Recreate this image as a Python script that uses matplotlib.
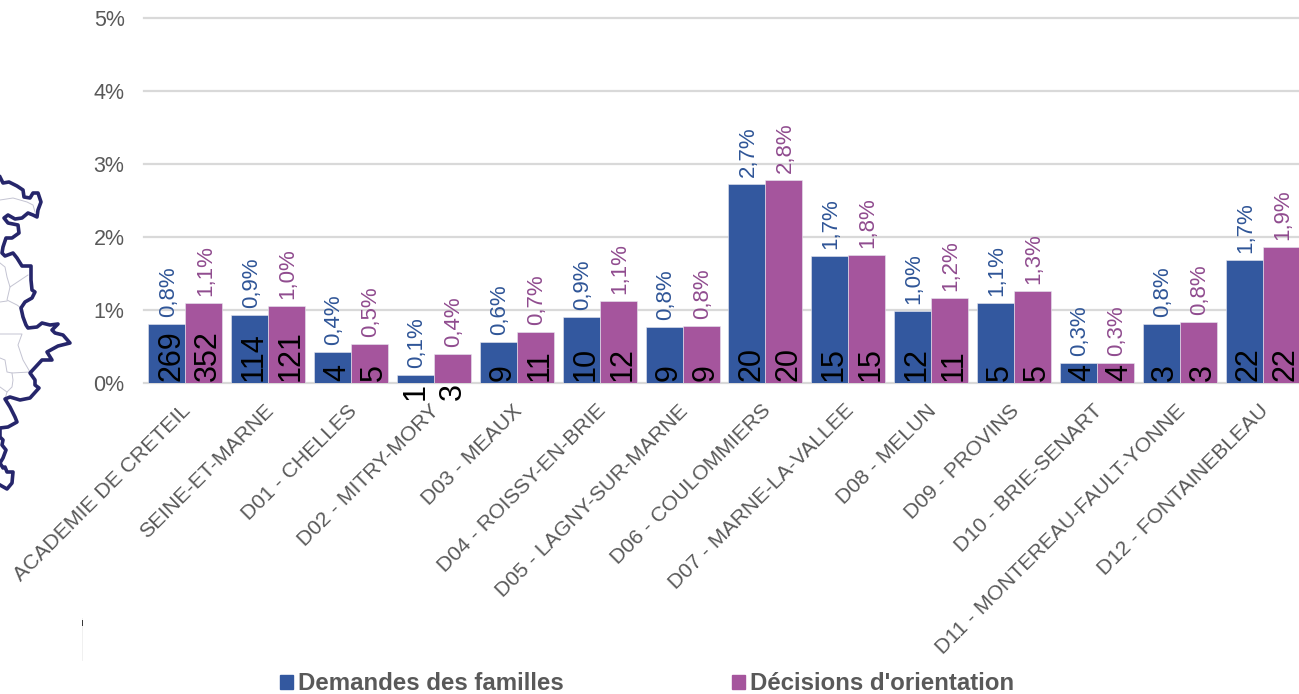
import numpy as np
import matplotlib.pyplot as plt
from matplotlib.patches import Patch

plt.rcParams['font.family'] = ['Liberation Sans', 'DejaVu Sans']

categories = ["ACADEMIE DE CRETEIL", "SEINE-ET-MARNE", "D01 - CHELLES", "D02 - MITRY-MORY",
              "D03 - MEAUX", "D04 - ROISSY-EN-BRIE", "D05 - LAGNY-SUR-MARNE", "D06 - COULOMMIERS",
              "D07 - MARNE-LA-VALLEE", "D08 - MELUN", "D09 - PROVINS", "D10 - BRIE-SENART",
              "D11 - MONTEREAU-FAULT-YONNE", "D12 - FONTAINEBLEAU"]
demandes = [0.81, 0.93, 0.42, 0.11, 0.56, 0.91, 0.77, 2.73, 1.74, 0.99, 1.10, 0.27, 0.81, 1.68]
decisions = [1.09, 1.05, 0.54, 0.40, 0.70, 1.12, 0.78, 2.78, 1.76, 1.17, 1.26, 0.27, 0.83, 1.86]
demandes_pct = ["0,8%", "0,9%", "0,4%", "0,1%", "0,6%", "0,9%", "0,8%", "2,7%", "1,7%", "1,0%", "1,1%", "0,3%", "0,8%", "1,7%"]
decisions_pct = ["1,1%", "1,0%", "0,5%", "0,4%", "0,7%", "1,1%", "0,8%", "2,8%", "1,8%", "1,2%", "1,3%", "0,3%", "0,8%", "1,9%"]
demandes_n = [269, 114, 4, 1, 9, 10, 9, 20, 15, 12, 5, 4, 3, 22]
decisions_n = [352, 121, 5, 3, 11, 12, 9, 20, 15, 11, 5, 4, 3, 22]
y_ticks = [0, 1, 2, 3, 4, 5]

# bout de carte a gauche, en pixels de l'image
map_outline = [(0, 177), (3, 183), (9, 182), (17, 186), (23, 190), (24, 197), (30, 198), (33, 193), (38, 193),
               (41, 202), (38, 210), (37, 217), (33, 215), (28, 213), (22, 218), (15, 219), (8, 215), (4, 218),
               (8, 223), (18, 225), (19, 233), (12, 238), (6, 238), (3, 247), (2, 253), (5, 256), (13, 253),
               (17, 258), (22, 266), (31, 266), (31, 280), (32, 290), (35, 292), (32, 298), (25, 302), (21, 308),
               (23, 317), (26, 325), (28, 328), (37, 327), (42, 323), (50, 325), (58, 324), (52, 330), (55, 333),
               (63, 335), (70, 343), (58, 346), (47, 352), (52, 360), (42, 360), (30, 373), (35, 380), (35, 385),
               (39, 388), (30, 398), (20, 400), (10, 397), (5, 399), (10, 407), (15, 417), (17, 422), (8, 427),
               (0, 428), (0, 437), (3, 440), (2, 445), (6, 450), (3, 458), (0, 463), (3, 468), (5, 467), (7, 472),
               (13, 472), (12, 483), (7, 489), (0, 485)]
map_inner = [[(0, 200), (13, 198), (27, 202), (33, 205), (35, 212)],
             [(0, 263), (5, 267), (7, 277), (10, 287), (28, 275)],
             [(10, 287), (7, 300), (17, 305), (21, 308)],
             [(0, 302), (7, 301)],
             [(0, 334), (22, 334), (18, 345), (23, 360), (30, 372)],
             [(0, 358), (5, 360), (7, 372), (12, 373), (30, 372)],
             [(12, 373), (13, 380), (12, 387), (7, 392), (5, 399)],
             [(0, 387), (7, 392)]]

blue = "#33589F"
pink = "#A5559D"
blue_txt = "#2F5597"
pink_txt = "#904C8F"
grey = "#595959"

fig = plt.figure(figsize=(12.99, 6.94), dpi=100)

# calque pixels pour la carte
bg = fig.add_axes([0, 0, 1, 1])
bg.set_xlim(0, 1299)
bg.set_ylim(694, 0)
bg.axis("off")
for line in map_inner:
    bg.plot([p[0] for p in line], [p[1] for p in line], color="#C4C4D2", lw=0.7)
bg.plot([p[0] for p in map_outline], [p[1] for p in map_outline], color="#26266B", lw=2.6)
bg.plot([82, 82], [618, 660], color="#EEEEEE", lw=0.6)
bg.plot([82, 82], [620, 625], color="#333333", lw=0.7)

ax = fig.add_axes([144/1299, 1-383/694, 1155/1299, 365/694])
ax.patch.set_alpha(0)
x = np.arange(len(categories))
w = 0.447
ax.bar(x-w/2, demandes, w, color=blue, edgecolor="#E8E8F0", linewidth=0.4, zorder=3)
ax.bar(x+w/2, decisions, w, color=pink, edgecolor="#E8E8F0", linewidth=0.4, zorder=3)
ax.set_xlim(-0.5, 13.44)
ax.set_ylim(0, 5)
ax.set_yticks(y_ticks)
ax.set_yticklabels([str(t)+"%" for t in y_ticks], fontsize=15.5, color=grey)
ax.tick_params(axis="y", length=0, pad=14)
ax.set_xticks(x-0.05)
ax.set_xticklabels(categories, rotation=45, ha="right", rotation_mode="anchor", fontsize=15.2, color=grey)
ax.tick_params(axis="x", length=0, pad=13)
ax.grid(axis="y", color="#D9D9D9", lw=1.6, zorder=0, clip_on=False)
ax.set_axisbelow(True)
for s in ax.spines.values():
    s.set_visible(False)

for i in range(len(categories)):
    for off, h, pct, n, col in [(-w/2, demandes[i], demandes_pct[i], demandes_n[i], blue_txt),
                                (w/2, decisions[i], decisions_pct[i], decisions_n[i], pink_txt)]:
        ax.annotate(pct, (i+off, h), xytext=(1, 5), textcoords="offset points", rotation=90,
                    ha="center", va="bottom", fontsize=16, color=col, zorder=5)
        # D02 : etiquette sous l'axe comme dans l'original
        if i == 3:
            ax.annotate(str(n), (i+off, 0), xytext=(0, 0), textcoords="offset points", rotation=90,
                        ha="center", va="top", fontsize=22, color="black", zorder=5)
        else:
            ax.annotate(str(n), (i+off, 0), xytext=(3, 1.5), textcoords="offset points", rotation=90,
                        ha="center", va="bottom", fontsize=22, color="black", zorder=5)

handles = [Patch(color=blue, label="Demandes des familles"), Patch(color=pink, label="Décisions d'orientation")]
leg = fig.legend(handles=handles, ncol=2, frameon=False, loc="center left",
                 bbox_to_anchor=(261/1299, 1-684/694), fontsize=17.3, handlelength=0.54, handleheight=0.54,
                 handletextpad=0.2, columnspacing=7.0, borderpad=0.3)
for t in leg.get_texts():
    t.set_fontweight("bold")
    t.set_color(grey)

fig.savefig("out.png", dpi=100)
